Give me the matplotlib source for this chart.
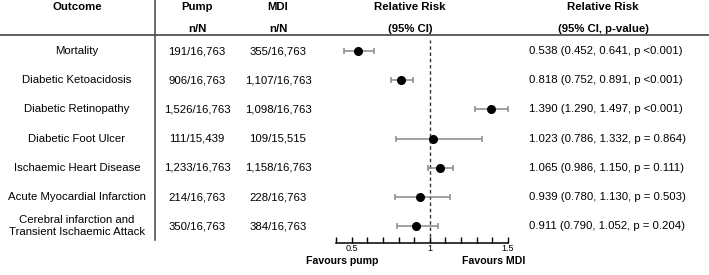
import matplotlib
matplotlib.use("Agg")
import matplotlib.pyplot as plt
from matplotlib.ticker import MultipleLocator, FixedLocator

plt.rcParams['font.family'] = ['Liberation Sans', 'DejaVu Sans']

outcomes = ["Mortality", "Diabetic Ketoacidosis", "Diabetic Retinopathy",
            "Diabetic Foot Ulcer", "Ischaemic Heart Disease",
            "Acute Myocardial Infarction",
            "Cerebral infarction and\nTransient Ischaemic Attack"]
pump = ["191/16,763", "906/16,763", "1,526/16,763", "111/15,439",
        "1,233/16,763", "214/16,763", "350/16,763"]
mdi = ["355/16,763", "1,107/16,763", "1,098/16,763", "109/15,515",
       "1,158/16,763", "228/16,763", "384/16,763"]
rr = [0.538, 0.818, 1.390, 1.023, 1.065, 0.939, 0.911]
lo = [0.452, 0.752, 1.290, 0.786, 0.986, 0.780, 0.790]
hi = [0.641, 0.891, 1.497, 1.332, 1.150, 1.130, 1.052]
pvals = ["p <0.001", "p <0.001", "p <0.001", "p = 0.864",
         "p = 0.111", "p = 0.503", "p = 0.204"]
xticks = [0.5, 1, 1.5]
xtick_labels = ["0.5", "1", "1.5"]

W, H = 709, 275
fig = plt.figure(figsize=(W / 100, H / 100), dpi=100)

# background axes in pixel coordinates
bg = fig.add_axes([0, 0, 1, 1])
bg.set_xlim(0, W)
bg.set_ylim(H, 0)
bg.axis('off')

fs = 8.2
row_y0, row_dy = 51, 29.2
ys = [row_y0 + row_dy * i for i in range(len(outcomes))]

# headers
hdr = dict(fontsize=fs, fontweight='bold', ha='center', va='center')
bg.text(77, 7, "Outcome", **hdr)
bg.text(197, 7, "Pump", **hdr)
bg.text(197, 29, "n/N", **hdr)
bg.text(278, 7, "MDI", **hdr)
bg.text(278, 29, "n/N", **hdr)
bg.text(410, 7, "Relative Risk", **hdr)
bg.text(410, 29, "(95% CI)", **hdr)
bg.text(603, 7, "Relative Risk", **hdr)
bg.text(603, 29, "(95% CI, p-value)", **hdr)

# lines
bg.plot([0, W], [35, 35], color='#333333', lw=1.1)
bg.plot([155, 155], [0, 240], color='#444444', lw=1.1)

for i, y in enumerate(ys):
    bg.text(77, y, outcomes[i], fontsize=fs, ha='center', va='center',
            linespacing=1.25)
    bg.text(197, y, pump[i], fontsize=fs, ha='center', va='center')
    bg.text(278, y, mdi[i], fontsize=fs, ha='center', va='center')
    bg.text(529, y, f"{rr[i]:.3f} ({lo[i]:.3f}, {hi[i]:.3f}, {pvals[i]})",
            fontsize=fs, ha='left', va='center')

# forest axes
x0, x1 = 336, 508
ytop, ybot = 40, 243
ax = fig.add_axes([x0 / W, 1 - ybot / H, (x1 - x0) / W, (ybot - ytop) / H])
ax.patch.set_alpha(0)
ax.set_xlim(0.4, 1.5)
ax.set_ylim((ybot - row_y0) / row_dy, (ytop - row_y0) / row_dy)
for s in ['top', 'right', 'left']:
    ax.spines[s].set_visible(False)
ax.spines['bottom'].set_linewidth(1.1)
ax.set_yticks([])
ax.xaxis.set_major_locator(FixedLocator(xticks))
ax.set_xticklabels(xtick_labels, fontsize=6.5)
ax.xaxis.set_minor_locator(MultipleLocator(0.1))
ax.tick_params(axis='x', which='both', direction='in', length=4, width=1, pad=0.5)

idx = list(range(len(rr)))
ax.axvline(1, color='#333333', lw=1, ls=(0, (2.5, 2)), zorder=1)
ax.errorbar(rr, idx, xerr=[[r - l for r, l in zip(rr, lo)],
                           [h - r for r, h in zip(rr, hi)]],
            fmt='o', color='black', ms=5.5, ecolor='#888888', elinewidth=1.1,
            capsize=2.5, capthick=1.1, zorder=3)

bg.text(342, 261, "Favours pump", fontsize=7.6, fontweight='bold',
        ha='center', va='center')
bg.text(494, 261, "Favours MDI", fontsize=7.6, fontweight='bold',
        ha='center', va='center')

fig.savefig("out.png", dpi=100)
